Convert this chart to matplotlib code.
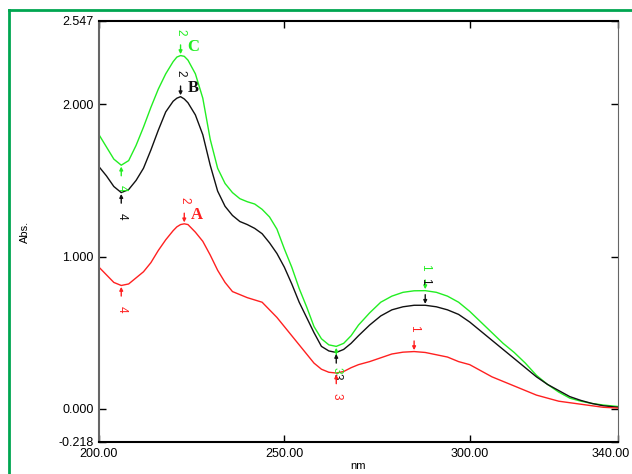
import numpy as np
import matplotlib.pyplot as plt
import matplotlib.transforms as mtransforms
from matplotlib.lines import Line2D

# wavelength grid (nm) and absorbance
wl = [200, 202, 204, 206, 208, 210, 212, 214, 216, 218, 220, 221, 222, 223, 224, 226, 228,
      230, 232, 234, 236, 238, 240, 242, 244, 246, 248, 250, 252, 254, 256, 258,
      260, 262, 264, 266, 268, 270, 273, 276, 279, 282, 285, 288, 291, 294, 297,
      300, 303, 306, 309, 312, 315, 318, 321, 324, 327, 330, 333, 336, 340]

abs_c = [1.80, 1.72, 1.64, 1.60, 1.63, 1.73, 1.85, 1.98, 2.10, 2.20, 2.28, 2.31, 2.32, 2.315, 2.29, 2.20, 2.04,
         1.77, 1.58, 1.48, 1.42, 1.38, 1.36, 1.345, 1.31, 1.26, 1.18, 1.05, 0.93, 0.79, 0.67, 0.54,
         0.46, 0.42, 0.41, 0.43, 0.48, 0.55, 0.63, 0.70, 0.74, 0.765, 0.775, 0.776, 0.765, 0.74, 0.70,
         0.64, 0.57, 0.50, 0.43, 0.37, 0.30, 0.22, 0.16, 0.11, 0.07, 0.05, 0.035, 0.025, 0.015]

abs_b = [1.59, 1.53, 1.46, 1.42, 1.44, 1.50, 1.58, 1.70, 1.83, 1.95, 2.02, 2.04, 2.05, 2.035, 2.01, 1.93, 1.80,
         1.60, 1.43, 1.33, 1.27, 1.23, 1.21, 1.185, 1.15, 1.09, 1.02, 0.93, 0.82, 0.70, 0.60, 0.50,
         0.41, 0.38, 0.37, 0.39, 0.43, 0.48, 0.55, 0.61, 0.65, 0.67, 0.68, 0.68, 0.67, 0.65, 0.62,
         0.57, 0.51, 0.45, 0.39, 0.33, 0.27, 0.21, 0.16, 0.12, 0.08, 0.055, 0.035, 0.02, 0.01]

abs_a = [0.93, 0.88, 0.83, 0.81, 0.82, 0.86, 0.90, 0.96, 1.04, 1.11, 1.17, 1.195, 1.21, 1.215, 1.21, 1.16, 1.10,
         1.01, 0.91, 0.83, 0.77, 0.75, 0.73, 0.715, 0.70, 0.65, 0.60, 0.54, 0.48, 0.42, 0.36, 0.30,
         0.26, 0.24, 0.235, 0.245, 0.27, 0.29, 0.31, 0.335, 0.36, 0.372, 0.376, 0.37, 0.355, 0.34, 0.31,
         0.29, 0.25, 0.21, 0.18, 0.15, 0.12, 0.09, 0.07, 0.05, 0.04, 0.03, 0.02, 0.01, 0.005]

# peak / valley picks: (wavelength, label, up?)
picks_c = [(222, '2', True), (206, '4', False), (264, '3', False), (288, '1', True)]
picks_b = [(222, '2', True), (206, '4', False), (264, '3', False), (288, '1', True)]
picks_a = [(223, '2', True), (206, '4', False), (264, '3', False), (285, '1', True)]

xticks = [200, 250, 300, 340]
yticks = [-0.218, 0.0, 1.0, 2.0, 2.547]

GREEN = '#22ee22'
RED = '#ff2020'
BLACK = '#111111'

fig = plt.figure(figsize=(6.32, 4.74), dpi=100)
ax = fig.add_axes([99 / 632, 32 / 474, 519 / 632, 421 / 474])

series = [(abs_c, GREEN, picks_c, 'C'), (abs_b, BLACK, picks_b, 'B'), (abs_a, RED, picks_a, 'A')]
for ys, col, picks, name in series:
    ax.plot(wl, ys, color=col, lw=1.0)
    for w, lab, up in picks:
        y = ys[wl.index(w)]
        off = 17 if up else -17
        ax.annotate(lab, xy=(w, y), xytext=(0, off), textcoords='offset points',
                    ha='center', va='center', rotation=270, fontsize=8.5,
                    color=col, family='Liberation Sans',
                    arrowprops=dict(arrowstyle='-|>', color=col, lw=1.0,
                                    mutation_scale=5, shrinkA=5, shrinkB=1))
        if lab == '2':
            ax.annotate(name, xy=(w, y), xytext=(9, 6), textcoords='offset points',
                        ha='center', va='center', fontsize=12, fontweight='bold',
                        color=col, family='Liberation Serif')

ax.set_xlim(200, 340)
ax.set_ylim(-0.218, 2.547)
ax.set_xticks(xticks)
ax.set_xticklabels(['%.2f' % t for t in xticks])
ax.set_yticks(yticks)
ax.set_yticklabels(['%.3f' % t for t in yticks])
ax.tick_params(direction='in', top=True, right=True, length=5, width=1,
               labelsize=9, pad=4)
for lbl in ax.get_xticklabels() + ax.get_yticklabels():
    lbl.set_family('Liberation Sans')
# last x label sits a bit left so it fits the picture
last = ax.get_xticklabels()[-1]
last.set_transform(last.get_transform() + mtransforms.ScaledTranslation(-7 / 100, 0, fig.dpi_scale_trans))
ax.spines['left'].set_color('#666666')
ax.spines['right'].set_color('#666666')
ax.spines['left'].set_linewidth(1.5)
for s in ['top', 'bottom']:
    ax.spines[s].set_linewidth(1.5)

ax.set_xlabel('nm', fontsize=8, family='Liberation Sans', labelpad=1)
fig.text(25 / 632, 1 - 232 / 474, 'Abs.', rotation=90, fontsize=8,
         family='Liberation Sans', ha='center', va='center')

# green frame around the figure
fig.add_artist(Line2D([9 / 632, 9 / 632], [0, 1 - 10 / 474], color='#00a651', lw=2))
fig.add_artist(Line2D([9 / 632, 1], [1 - 10 / 474, 1 - 10 / 474], color='#00a651', lw=2))

fig.savefig('out.png', dpi=100)
